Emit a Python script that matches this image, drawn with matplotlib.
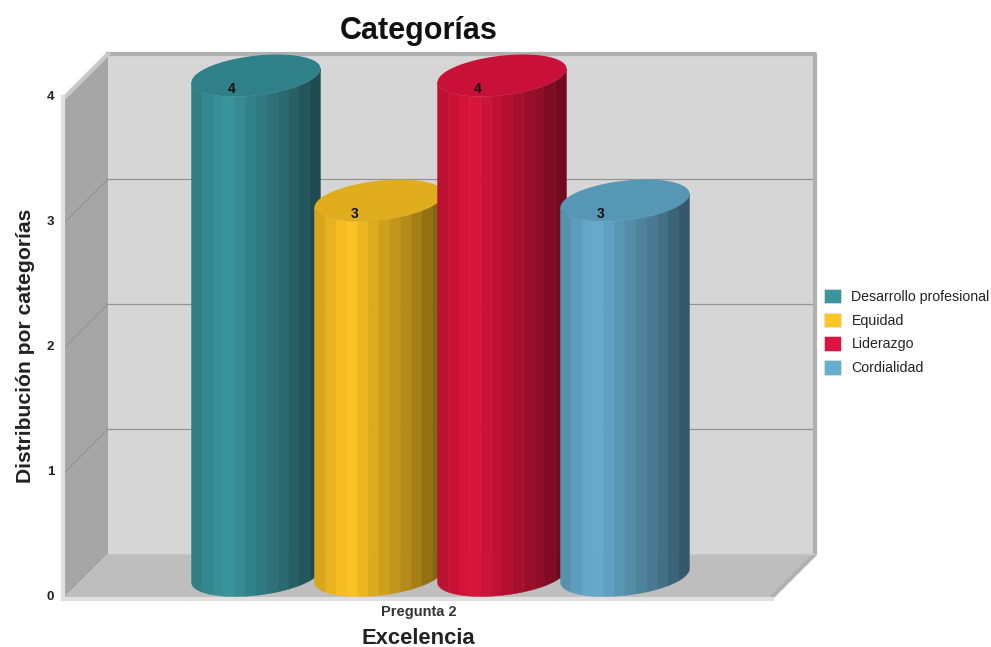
import numpy as np
import matplotlib
matplotlib.use('Agg')
import matplotlib.pyplot as plt
from matplotlib.patches import Polygon, Patch

plt.rcParams['font.family'] = ['Liberation Sans', 'DejaVu Sans']

categories = ['Desarrollo profesional', 'Equidad', 'Liderazgo', 'Cordialidad']
values = [4, 3, 4, 3]
base_colors = ['#3a959d', '#ffc520', '#dc143c', '#67adcf']
top_colors = ['#30808a', '#e0ad1e', '#c81038', '#5797b6']
y_ticks = [0, 1, 2, 3, 4]
x_label = 'Pregunta 2'

# pixels per unit on each scale
unit_x = 123.0
unit_y = 125.0
W, H = 991, 647

fig = plt.figure(figsize=(W / 100, H / 100), dpi=100)
ax = fig.add_axes([0, 0, 1, 1])
ax.set_xlim(-256 / unit_x, (W - 256) / unit_x)
ax.set_ylim((597 - H) / unit_y, 597 / unit_y)
ax.axis('off')

# box geometry
x0 = (65 - 256) / unit_x
x1 = (772 - 256) / unit_x
dx = 43 / unit_x
dy = 43 / unit_y
ytop = max(y_ticks)


def poly(pts, color, z=1, **kw):
    ax.add_patch(Polygon(pts, closed=True, facecolor=color, edgecolor='none', zorder=z, **kw))


# walls and floor
poly([(x0 + dx, dy), (x1 + dx, dy), (x1 + dx, ytop + dy), (x0 + dx, ytop + dy)], '#d6d6d6')
poly([(x0, 0), (x0 + dx, dy), (x0 + dx, ytop + dy), (x0, ytop)], '#a6a6a6')
poly([(x0, 0), (x1, 0), (x1 + dx, dy), (x0 + dx, dy)], '#bebebe')

# grid lines, back wall and side wall
for v in y_ticks[1:-1]:
    ax.plot([x0 + dx, x1 + dx], [v + dy, v + dy], color='#939393', lw=0.9, zorder=2)
    ax.plot([x0, x0 + dx], [v, v + dy], color='#8f8f8f', lw=0.7, zorder=2)
    ax.plot([x0 - 3 / unit_x, x0], [v, v], color='#9a9a9a', lw=0.7, zorder=2)
ax.plot([x0 - 3 / unit_x, x0], [ytop, ytop], color='#9a9a9a', lw=0.7, zorder=2)

# box edges
edge = dict(solid_capstyle='projecting', zorder=2)
ax.plot([x0 + dx, x1 + dx, x1 + dx, x1], [ytop + dy, ytop + dy, dy, 0], color='#b0b0b0', lw=3, **edge)
ax.plot([x0, x0 + dx], [ytop, ytop + dy], color='#c8c8c8', lw=3, **edge)
ax.plot([x0 - 2 / unit_x, x0 - 2 / unit_x], [ytop, -2 / unit_y], color='#e0e0e0', lw=3, **edge)
ax.plot([x0 - 2 / unit_x, x1], [-2 / unit_y, -2 / unit_y], color='#e0e0e0', lw=3, **edge)
ax.plot([x0 + dx, x1 + dx], [dy, dy], color='#c8c8c8', lw=1, zorder=2)

# cylinders, shaded in bands of equal screen width
a = 61 / unit_x
hx = 21 / unit_x
hy = 21 / unit_y
mid = dy / 2
t0 = np.arctan2(21, 61)
band_edges = t0 - np.arccos(np.linspace(-1, 1, 13))


def rim(i, v, t):
    return np.column_stack([i + a * np.cos(t) + hx * np.sin(t), v + mid + hy * np.sin(t)])


for i, v in enumerate(values):
    base = np.array(matplotlib.colors.to_rgb(base_colors[i]))
    for k in range(len(band_edges) - 1):
        t = np.linspace(band_edges[k], band_edges[k + 1], 8)
        upper = rim(i, v, t)
        lower = rim(i, 0, t)
        frac = (k + 0.5) / (len(band_edges) - 1)
        shade = np.interp(frac, [0, 0.27, 0.5, 0.75, 1], [0.82, 1.0, 0.84, 0.68, 0.48])
        c = base * shade
        ax.add_patch(Polygon(np.vstack([upper, lower[::-1]]), closed=True, facecolor=c,
                             edgecolor=c, lw=0.3, zorder=3 + i))
    ring = rim(i, v, np.linspace(0, 2 * np.pi, 120))
    ax.add_patch(Polygon(ring, closed=True, facecolor=top_colors[i], edgecolor='none', zorder=3 + i))
    ax.annotate(str(v), xy=(i, v), xytext=(-24 * 0.72, 8 * 0.72), textcoords='offset points',
                ha='center', va='center', fontsize=10, fontweight='bold', color='#111111',
                zorder=10)

# axis text
for v in y_ticks:
    ax.text(x0 - 11 / unit_x, v, str(v), ha='right', va='center', fontsize=9.5,
            fontweight='bold', color='#222222')
xc = (x0 + x1) / 2
ax.text(xc, -15 / unit_y, x_label, ha='center', va='center', fontsize=10.5,
        fontweight='bold', color='#333333')
ax.text(xc, -41 / unit_y, 'Excelencia', ha='center', va='center', fontsize=15.8,
        fontweight='bold', color='#222222')
ax.text((25 - 256) / unit_x, (597 - 346) / unit_y, 'Distribución por categorías', rotation=90,
        ha='center', va='center', fontsize=15.2, fontweight='bold', color='#222222')
ax.text(xc, (597 - 31) / unit_y, 'Categorías', ha='center', va='center', fontsize=22,
        fontweight='bold', color='#111111')

# legend
handles = [Patch(facecolor=c, edgecolor='#d8e4e8', lw=0.5, label=n)
           for n, c in zip(categories, base_colors)]
ax.legend(handles=handles, loc='center left', bbox_to_anchor=(820 / W, 1 - 332 / H),
          frameon=False, fontsize=10.2, handlelength=1.2, handleheight=1.2,
          handletextpad=0.72, labelspacing=0.62, borderpad=0.3, borderaxespad=0,
          labelcolor='#222222')

fig.savefig('out.png', dpi=100)
